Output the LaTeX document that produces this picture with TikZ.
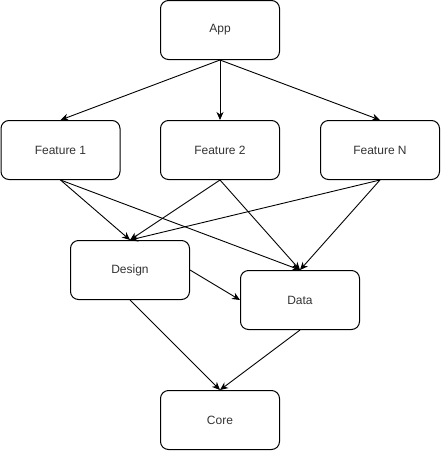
\documentclass[tikz,border=0pt]{standalone}
\usepackage{fontspec}
\setmainfont{Liberation Sans}
\usetikzlibrary{arrows.meta}
\begin{document}
\begin{tikzpicture}[x=1pt,y=-1pt,
  box/.style={draw, line width=1pt, rounded corners=8pt, minimum width=119pt,
    minimum height=59pt, inner sep=0pt, font=\fontsize{12}{14}\selectfont, text=black!80},
  link/.style={line width=0.9pt, -{Stealth[length=8pt,width=7pt,inset=2.5pt]}}]
  \useasboundingbox (0,0) rectangle (441,451);
  \fill[white] (0,0) rectangle (441,451);
  % module nodes
  \node[box] (app)   at (220,30)  {App};
  \node[box] (f1)    at (60.5,150) {Feature 1};
  \node[box] (f2)    at (220,150) {Feature 2};
  \node[box] (fn)    at (380,150) {Feature N};
  \node[box] (design) at (130,270) {Design};
  \node[box] (data)  at (300,300) {Data};
  \node[box] (core)  at (220,420) {Core};
  % dependencies
  \draw[link] (app.south) -- (f1.north);
  \draw[link] (app.south) -- (f2.north);
  \draw[link] (app.south) -- (fn.north);
  \draw[link] (f1.south) -- (design.north);
  \draw[link] (f1.south) -- (data.north);
  \draw[link] (f2.south) -- (design.north);
  \draw[link] (f2.south) -- (data.north);
  \draw[link] (fn.south) -- (design.north);
  \draw[link] (fn.south) -- (data.north);
  \draw[link] (design.east) -- (data.west);
  \draw[link] (design.south) -- (core.north);
  \draw[link] (data.south) -- (core.north);
\end{tikzpicture}
\end{document}
